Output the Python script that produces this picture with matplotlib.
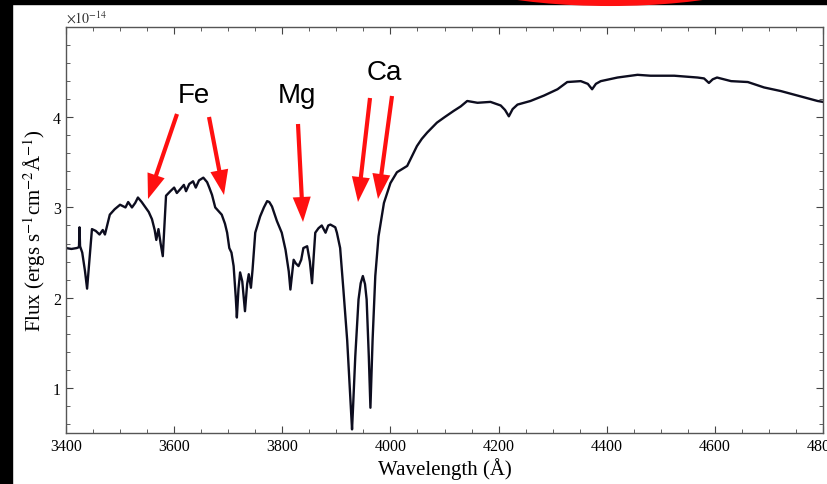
import matplotlib.pyplot as plt
from matplotlib.patches import Rectangle, Ellipse, FancyArrowPatch
from matplotlib.ticker import MultipleLocator, FixedLocator

# spectrum (flux in units of 1e-14)
wavelength = [3400, 3410, 3420, 3424, 3425, 3426, 3430, 3435, 3439, 3443,
              3448, 3455, 3462, 3468, 3472, 3478, 3481, 3490, 3500, 3510,
              3515, 3522, 3528, 3533, 3540, 3546, 3553, 3559, 3564, 3567,
              3571, 3575, 3579, 3582, 3585, 3593, 3600, 3605, 3611, 3618,
              3622, 3628, 3635, 3640, 3646, 3654, 3661, 3665, 3670, 3676,
              3682, 3688, 3694, 3698, 3702, 3706, 3710, 3714, 3716, 3719,
              3722, 3726, 3731, 3735, 3738, 3742, 3745, 3750, 3759, 3766,
              3772, 3776, 3781, 3790, 3799, 3806, 3812, 3815, 3818, 3821,
              3825, 3830, 3835, 3839, 3846, 3851, 3855, 3858, 3861, 3867,
              3873, 3880, 3885, 3889, 3898, 3901, 3907, 3913, 3920, 3924,
              3927, 3929, 3931, 3935, 3941, 3945, 3949, 3953, 3956, 3960,
              3963, 3967, 3972, 3978, 3988, 4000, 4012, 4020, 4031, 4040,
              4049, 4058, 4068, 4086, 4100, 4117, 4130, 4142, 4161, 4185,
              4204, 4212, 4219, 4226, 4235, 4259, 4284, 4309, 4327, 4352,
              4365, 4373, 4380, 4389, 4420, 4457, 4481, 4525, 4568, 4580,
              4589, 4596, 4604, 4630, 4661, 4691, 4722, 4753, 4790, 4800]
flux = [2.55, 2.54, 2.55, 2.56, 2.78, 2.57, 2.50, 2.30, 2.10, 2.40,
        2.76, 2.74, 2.70, 2.75, 2.70, 2.85, 2.92, 2.98, 3.03, 3.00,
        3.06, 3.00, 3.05, 3.11, 3.06, 3.01, 2.95, 2.87, 2.75, 2.64,
        2.76, 2.60, 2.46, 2.80, 3.13, 3.18, 3.22, 3.16, 3.20, 3.25,
        3.18, 3.26, 3.29, 3.22, 3.30, 3.33, 3.28, 3.22, 3.14, 3.00,
        2.96, 2.92, 2.82, 2.72, 2.55, 2.50, 2.35, 2.00, 1.78, 2.10,
        2.28, 2.18, 1.85, 2.15, 2.26, 2.11, 2.31, 2.72, 2.90, 3.00,
        3.07, 3.06, 3.01, 2.85, 2.72, 2.53, 2.29, 2.09, 2.25, 2.42,
        2.38, 2.35, 2.42, 2.55, 2.57, 2.40, 2.16, 2.45, 2.72, 2.77,
        2.80, 2.72, 2.80, 2.81, 2.78, 2.72, 2.55, 2.09, 1.53, 1.09,
        0.75, 0.54, 0.80, 1.35, 1.98, 2.16, 2.24, 2.15, 1.98, 1.35,
        0.78, 1.53, 2.24, 2.68, 3.05, 3.27, 3.39, 3.42, 3.46, 3.57,
        3.68, 3.76, 3.83, 3.94, 4.00, 4.07, 4.12, 4.18, 4.16, 4.17,
        4.13, 4.08, 4.01, 4.09, 4.14, 4.18, 4.24, 4.31, 4.39, 4.40,
        4.37, 4.31, 4.37, 4.40, 4.44, 4.47, 4.46, 4.46, 4.44, 4.43,
        4.38, 4.42, 4.44, 4.40, 4.39, 4.33, 4.29, 4.24, 4.18, 4.17]

labels = ['Fe', 'Mg', 'Ca']
label_pos = [(194, 103), (297, 103), (384, 80)]  # pixel, from top-left
arrows = [((177, 115), (148, 200)), ((209, 118), (224, 196)),
          ((298, 125), (303, 223)), ((370, 99), (358, 203)),
          ((392, 97), (378, 200))]
yticks = [1, 2, 3, 4]

W, H = 827, 485
fig = plt.figure(figsize=(W / 100, H / 100), dpi=100)
fig.patch.set_facecolor('white')
ax = fig.add_axes([66 / W, 1 - 434 / H, (823 - 66) / W, (434 - 28) / H])

ax.plot(wavelength, flux, color='#0d0d1f', lw=1.7)
ax.set_xlim(3400, 4800)
ax.set_ylim(0.5, 5.0)
ax.xaxis.set_major_locator(MultipleLocator(200))
ax.xaxis.set_minor_locator(MultipleLocator(50))
ax.yaxis.set_major_locator(FixedLocator(yticks))
ax.yaxis.set_minor_locator(MultipleLocator(0.2))
ax.tick_params(which='both', direction='in', top=True, right=True,
               color='#444444', labelsize=11.5)
ax.tick_params(which='major', length=5)
ax.tick_params(which='minor', length=3)
for lab in ax.get_xticklabels() + ax.get_yticklabels():
    lab.set_fontfamily('Liberation Serif')
for s in ax.spines.values():
    s.set_color('#555555')
    s.set_linewidth(1.0)

ax.set_xlabel('Wavelength (Å)', fontsize=15, family='Liberation Serif',
              labelpad=2)
ax.set_ylabel('Flux (ergs s$^{-1}$cm$^{-2}$Å$^{-1}$)', fontsize=15,
              family='Liberation Serif', math_fontfamily='stix', labelpad=4)
fig.text(66 / W, 1 - 24 / H, r'$\times10^{-14}$', fontsize=10,
         family='Liberation Serif', math_fontfamily='stix', color='#333333')

# black frame pieces of the screenshot
fig.patches.append(Rectangle((0, 0), 12 / W, 1, transform=fig.transFigure,
                             color='black', zorder=5))
fig.patches.append(Rectangle((0, 1 - 5 / H), 1, 5 / H,
                             transform=fig.transFigure, color='black',
                             zorder=5))
fig.patches.append(Ellipse((610 / W, 1 + 40 / H), 362 / W, 86 / H,
                           transform=fig.transFigure, fill=False,
                           edgecolor='#ff1010', lw=5.8, zorder=6))

for (x0, y0), (x1, y1) in arrows:
    fig.patches.append(FancyArrowPatch(
        (x0 / W, 1 - y0 / H), (x1 / W, 1 - y1 / H),
        transform=fig.transFigure,
        arrowstyle='simple,head_length=1.8,head_width=1.3,tail_width=0.3',
        mutation_scale=10, color='#ff1010', lw=0, shrinkA=0, shrinkB=0,
        zorder=7))

for t, (x, y) in zip(labels, label_pos):
    fig.text(x / W, 1 - y / H, t, fontsize=20, family='Liberation Sans',
             ha='center', va='baseline', color='black', zorder=8)

fig.savefig('out.png', dpi=100)
